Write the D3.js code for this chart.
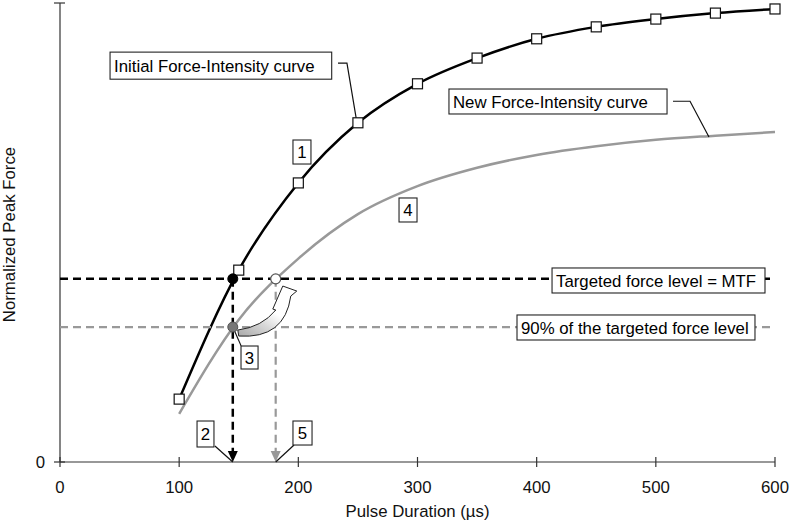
<!DOCTYPE html>
<html>
<head>
<meta charset="utf-8">
<script src="https://cdn.jsdelivr.net/npm/d3@7"></script>
<style>
  html, body { margin: 0; padding: 0; background: #fff; }
  svg { display: block; font-family: "Liberation Sans", Arial, sans-serif; }
</style>
</head>
<body>
<svg id="chart" width="790" height="527"></svg>
<script>
// ---- data ----
const initialDurations = [100, 150, 200, 250, 300, 350, 400, 450, 500, 550, 600];
const initialForce     = [0.137, 0.418, 0.608, 0.739, 0.824, 0.880, 0.922, 0.948, 0.965, 0.978, 0.987];
const newDurations     = [100, 150, 200, 250, 300, 350, 400, 450, 500, 550, 600];
const newForce         = [0.105, 0.310, 0.443, 0.540, 0.601, 0.641, 0.669, 0.688, 0.702, 0.711, 0.719];
const xTicks = [0, 100, 200, 300, 400, 500, 600];
const yTicks = [0, 1];
const yTickLabels = ["0", ""];
const targetForce = 0.399;        // MTF
const reducedForce = 0.294;       // 90% of the targeted level (as drawn)
const durationAtTarget = 145;     // initial curve reaches MTF
const newDurationAtTarget = 181;  // new curve reaches MTF
const xTitle = "Pulse Duration (µs)";
const yTitle = "Normalized Peak Force";

// annotation boxes (data units)
const boxes = [
  { text: "Initial Force-Intensity curve", x0: 42, x1: 228, y0: 0.893, y1: 0.834 },
  { text: "New Force-Intensity curve", x0: 326.4, x1: 509.4, y0: 0.8126, y1: 0.7582 },
  { text: "Targeted force level = MTF", x0: 412.9, x1: 591.6, y0: 0.4227, y1: 0.3682 },
  { text: "90% of the targeted force level", x0: 383.5, x1: 583.2, y0: 0.3203, y1: 0.2658 },
  { text: "1", x0: 195.5, x1: 210.6, y0: 0.7015, y1: 0.6492, center: true },
  { text: "4", x0: 284.5, x1: 299.6, y0: 0.5752, y1: 0.5229, center: true },
  { text: "2", x0: 115.0, x1: 129.2, y0: 0.0893, y1: 0.0327, center: true },
  { text: "5", x0: 195.5, x1: 211.5, y0: 0.0893, y1: 0.0370, center: true },
  { text: "3", x0: 151.9, x1: 166.2, y0: 0.2527, y1: 0.2026, center: true }
];
const leaders = [
  [[233.3, 0.869], [240.8, 0.869], [249.2, 0.739]],
  [[514.4, 0.786], [528.7, 0.786], [544.6, 0.708]],
  [[130.0, 0.035], [145.0, 0.0]],
  [[196.4, 0.037], [181.0, 0.0]],
  [[152.0, 0.253], [145.0, 0.294]]
];

// ---- layout ----
const svg = d3.select("#chart");
const x = d3.scaleLinear().domain([0, 600]).range([60, 775]);
const y = d3.scaleLinear().domain([0, 1]).range([462, 3]);
const FONT = 16.8;

// defs
const defs = svg.append("defs");
const grad = defs.append("linearGradient").attr("id", "arrowGrad")
  .attr("x1", 0).attr("y1", 1).attr("x2", 0.6).attr("y2", 0.2);
grad.append("stop").attr("offset", "0%").attr("stop-color", "#a8a8a8");
grad.append("stop").attr("offset", "45%").attr("stop-color", "#d8d8d8");
grad.append("stop").attr("offset", "75%").attr("stop-color", "#ffffff");

// axes
const axisColor = "#333";
const gAxis = svg.append("g");
gAxis.append("line").attr("x1", x(0)).attr("x2", x(600)).attr("y1", y(0)).attr("y2", y(0))
  .attr("stroke", axisColor).attr("stroke-width", 1.2);
gAxis.append("line").attr("x1", x(0)).attr("x2", x(0)).attr("y1", y(0)).attr("y2", y(1))
  .attr("stroke", axisColor).attr("stroke-width", 1.2);
gAxis.selectAll(".xt").data(xTicks).enter().append("line")
  .attr("x1", d => x(d)).attr("x2", d => x(d)).attr("y1", y(0) - 5).attr("y2", y(0) + 5)
  .attr("stroke", axisColor).attr("stroke-width", 1.2);
gAxis.selectAll(".xl").data(xTicks).enter().append("text")
  .attr("x", d => x(d)).attr("y", y(0) + 31).attr("text-anchor", "middle")
  .attr("font-size", FONT).attr("fill", "#111").text(d => d);
gAxis.selectAll(".yt").data(yTicks).enter().append("line")
  .attr("x1", x(0) - 6).attr("x2", x(0) + 5).attr("y1", d => y(d)).attr("y2", d => y(d))
  .attr("stroke", axisColor).attr("stroke-width", 1.2);
gAxis.selectAll(".yl").data(yTicks).enter().append("text")
  .attr("x", x(0) - 15).attr("y", d => y(d)).attr("dy", "0.35em").attr("text-anchor", "end")
  .attr("font-size", FONT).attr("fill", "#111").text((d, i) => yTickLabels[i]);
svg.append("text").attr("x", (x(0) + x(600)) / 2).attr("y", 517).attr("text-anchor", "middle")
  .attr("font-size", FONT).attr("fill", "#111").text(xTitle);
svg.append("text").attr("transform", `translate(15, ${(y(0) + y(1)) / 2 + 2}) rotate(-90)`)
  .attr("text-anchor", "middle").attr("font-size", FONT).attr("fill", "#111").text(yTitle);

// curves
const line = d3.line().x(d => x(d[0])).y(d => y(d[1])).curve(d3.curveMonotoneX);
const newPts = newDurations.map((d, i) => [d, newForce[i]]);
const initPts = initialDurations.map((d, i) => [d, initialForce[i]]);
svg.append("path").attr("d", line(newPts)).attr("fill", "none")
  .attr("stroke", "#999").attr("stroke-width", 2.5);
svg.append("path").attr("d", line(initPts)).attr("fill", "none")
  .attr("stroke", "#000").attr("stroke-width", 2.5);

// dashed guide lines
svg.append("line").attr("x1", x(0)).attr("x2", x(600)).attr("y1", y(targetForce)).attr("y2", y(targetForce))
  .attr("stroke", "#000").attr("stroke-width", 2.5).attr("stroke-dasharray", "8,5");
svg.append("line").attr("x1", x(0)).attr("x2", x(600)).attr("y1", y(reducedForce)).attr("y2", y(reducedForce))
  .attr("stroke", "#999").attr("stroke-width", 2.2).attr("stroke-dasharray", "8,5");
svg.append("line").attr("x1", x(durationAtTarget)).attr("x2", x(durationAtTarget))
  .attr("y1", y(targetForce)).attr("y2", y(0) - 9)
  .attr("stroke", "#000").attr("stroke-width", 2.5).attr("stroke-dasharray", "8,5");
svg.append("line").attr("x1", x(newDurationAtTarget)).attr("x2", x(newDurationAtTarget))
  .attr("y1", y(targetForce)).attr("y2", y(0) - 9)
  .attr("stroke", "#999").attr("stroke-width", 2.2).attr("stroke-dasharray", "8,5");
// arrowheads on the axis
function arrowHead(cx, color) {
  const ty = y(0);
  svg.append("path").attr("d", `M${cx},${ty} L${cx - 5},${ty - 11} L${cx + 5},${ty - 11} Z`)
    .attr("fill", color);
}
arrowHead(x(durationAtTarget), "#000");
arrowHead(x(newDurationAtTarget), "#999");

// leader lines
const ll = d3.line().x(d => x(d[0])).y(d => y(d[1]));
leaders.forEach(l => {
  svg.append("path").attr("d", ll(l)).attr("fill", "none").attr("stroke", "#111").attr("stroke-width", 1.2);
});

// squares on the initial curve
svg.selectAll(".sq").data(initPts).enter().append("rect")
  .attr("x", d => x(d[0]) - 5).attr("y", d => y(d[1]) - 5).attr("width", 10).attr("height", 10)
  .attr("fill", "#fff").attr("stroke", "#111").attr("stroke-width", 1.2);

// curved block arrow from the reduced point towards the new MTF point
const gx = x(durationAtTarget), gy = y(reducedForce);
svg.append("path")
  .attr("d", `M${gx + 5},${gy + 3} Q${gx + 29},${gy} ${gx + 43},${gy - 17} L${gx + 40},${gy - 18} L${gx + 50},${gy - 41} L${gx + 64},${gy - 36} L${gx + 58},${gy - 31} Q${gx + 52},${gy + 12} ${gx + 6},${gy + 9} Z`)
  .attr("fill", "url(#arrowGrad)").attr("stroke", "#222").attr("stroke-width", 1);

// marker dots
svg.append("circle").attr("cx", x(durationAtTarget)).attr("cy", y(targetForce)).attr("r", 5)
  .attr("fill", "#000").attr("stroke", "#000");
svg.append("circle").attr("cx", x(durationAtTarget)).attr("cy", y(reducedForce)).attr("r", 5)
  .attr("fill", "#777").attr("stroke", "#555").attr("stroke-width", 1);
svg.append("circle").attr("cx", x(newDurationAtTarget)).attr("cy", y(targetForce)).attr("r", 5)
  .attr("fill", "#fff").attr("stroke", "#555").attr("stroke-width", 1.2);

// annotation boxes
boxes.forEach(b => {
  const bx = x(b.x0), bw = x(b.x1) - x(b.x0);
  const by = y(b.y0), bh = y(b.y1) - y(b.y0);
  svg.append("rect").attr("x", bx).attr("y", by).attr("width", bw).attr("height", bh)
    .attr("fill", "#fff").attr("stroke", "#222").attr("stroke-width", 1.1);
  svg.append("text")
    .attr("x", b.center ? bx + bw / 2 : bx + 4)
    .attr("y", by + bh / 2).attr("dy", "0.36em")
    .attr("text-anchor", b.center ? "middle" : "start")
    .attr("font-size", FONT).attr("fill", "#000").text(b.text);
});
</script>
</body>
</html>
